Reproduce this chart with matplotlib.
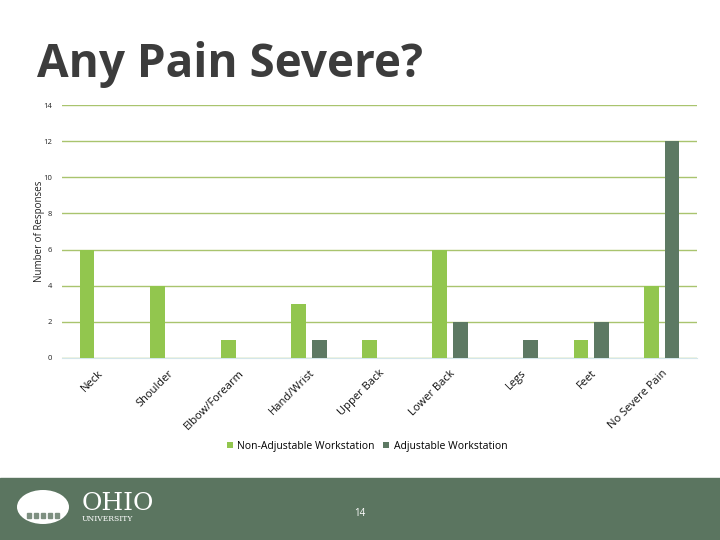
import matplotlib.pyplot as plt
import numpy as np
from matplotlib.patches import Rectangle, Ellipse

categories = ["Neck", "Shoulder", "Elbow/Forearm", "Hand/Wrist", "Upper Back",
              "Lower Back", "Legs", "Feet", "No Severe Pain"]
non_adjustable = [6, 4, 1, 3, 1, 6, 0, 1, 4]
adjustable = [0, 0, 0, 1, 0, 2, 1, 2, 12]
y_ticks = [0, 2, 4, 6, 8, 10, 12, 14]

light_green = "#92c64e"
dark_green = "#5d7963"
grid_green = "#a9c46e"
footer_green = "#5b7560"

plt.rcParams['font.family'] = ['Open Sans', 'DejaVu Sans']

fig = plt.figure(figsize=(7.2, 5.4), dpi=100)

# title
fig.text(37 / 720, 1 - 64 / 540, "Any Pain Severe?", fontsize=33, fontweight="bold",
         color="#3c3c3c", ha="left", va="center")

ax = fig.add_axes([62 / 720, 1 - 358 / 540, 635 / 720, 253 / 540])
x = np.arange(len(categories))
w = 0.21
ax.bar(x - 0.145, non_adjustable, w, color=light_green, label="Non-Adjustable Workstation", zorder=3)
ax.bar(x + 0.145, adjustable, w, color=dark_green, label="Adjustable Workstation", zorder=3)

ax.set_xlim(-0.5, len(categories) - 0.5)
ax.set_ylim(0, 14)
ax.set_yticks(y_ticks)
ax.set_yticklabels([str(v) for v in y_ticks], fontsize=5.5, color="#222222")
ax.yaxis.grid(True, color=grid_green, linewidth=1, zorder=0)
ax.tick_params(axis="y", length=0, pad=7)
ax.tick_params(axis="x", length=0, pad=7)
ax.set_xticks(x)
ax.set_xticklabels(categories, rotation=45, ha="right", va="top", rotation_mode="anchor",
                   fontsize=8, color="#111111")
for side in ["top", "right", "left"]:
    ax.spines[side].set_visible(False)
ax.spines["bottom"].set_color("#d3e6ea")
ax.set_ylabel("Number of Responses", fontsize=7, color="#222222")
ax.yaxis.set_label_coords(-17 / 635, 0.5)

fig.legend(loc="center", bbox_to_anchor=(367 / 720, 1 - 446 / 540), ncol=2, frameon=False,
           fontsize=7.5, handlelength=0.6, handleheight=0.6, columnspacing=0.8, handletextpad=0.4)

# footer band
fig.patches.append(Rectangle((0, 0), 1, 62 / 540, transform=fig.transFigure,
                             color=footer_green, zorder=0))
fig.patches.append(Ellipse((43 / 720, 1 - 507 / 540), 52 / 720, 34 / 540,
                           transform=fig.transFigure, facecolor="white", edgecolor="none"))
for i in range(5):
    fig.patches.append(Rectangle(((27 + i * 7) / 720, 1 - 518 / 540), 4 / 720, 5 / 540,
                                 transform=fig.transFigure, color="#7d8f80"))
fig.text(82 / 720, 1 - 503 / 540, "OHIO", fontsize=18, family="DejaVu Serif", color="white",
         ha="left", va="center")
fig.text(82 / 720, 1 - 519 / 540, "UNIVERSITY", fontsize=5.5, family="DejaVu Serif", color="white",
         ha="left", va="center")
fig.text(360 / 720, 1 - 514 / 540, "14", fontsize=7, color="white", ha="center", va="center")

fig.savefig("out.png", dpi=100)
